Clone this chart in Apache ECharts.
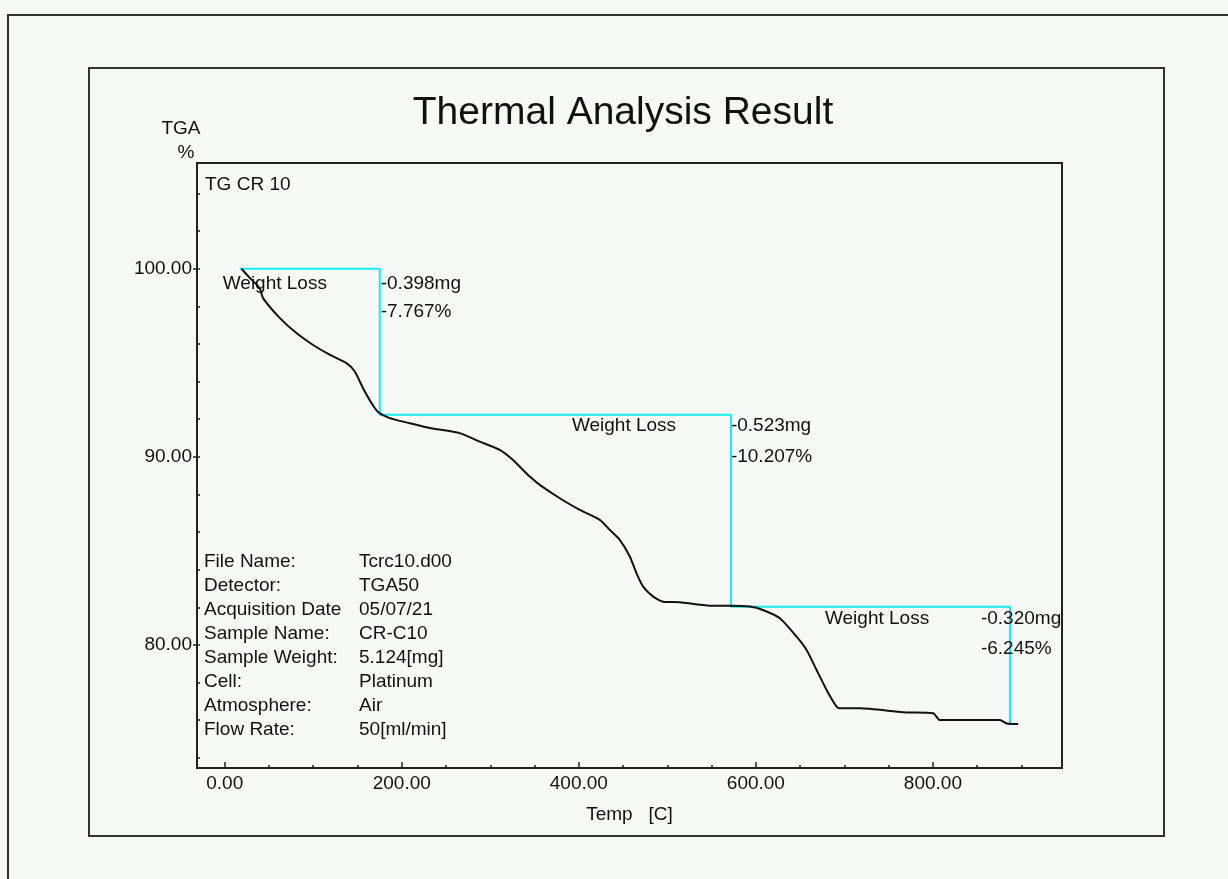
<!DOCTYPE html>
<html>
<head>
<meta charset="utf-8">
<title>Thermal Analysis Result</title>
<script src="https://cdn.jsdelivr.net/npm/echarts@6/dist/echarts.min.js"></script>
<style>
  html, body { margin: 0; padding: 0; background: #f6f9f6; }
  #chart { width: 1228px; height: 879px; }
</style>
</head>
<body>
<div id="chart"></div>
<script>
// TGA curve: temperature [C] and remaining weight [%]
const temps = [18.9, 28.2, 39.5, 43.3, 62.1, 81.0, 99.4, 118.6, 137.5, 146.9, 156.3, 165.8, 173.2,
  186.4, 209.0, 231.6, 265.5, 288.1, 310.7, 325.4, 344.6, 355.9, 378.5, 401.1, 423.7, 435.0,
  446.3, 457.6, 465.2, 472.7, 484.0, 495.3, 514.1, 548.0, 570.6, 593.2, 607.9, 627.1, 646.0,
  657.3, 668.6, 679.9, 691.2, 694.9, 717.5, 766.4, 800.3, 807.9, 875.7, 883.3, 896.4];
const tga = [100.00, 99.52, 98.97, 98.44, 97.39, 96.58, 95.96, 95.43, 94.98, 94.54, 93.65, 92.86, 92.38,
  92.06, 91.79, 91.53, 91.26, 90.81, 90.37, 89.84, 88.95, 88.51, 87.80, 87.18, 86.65, 86.12,
  85.59, 84.70, 83.81, 83.10, 82.57, 82.30, 82.27, 82.09, 82.09, 82.04, 81.86, 81.42, 80.44,
  79.73, 78.67, 77.61, 76.72, 76.63, 76.63, 76.42, 76.37, 76.01, 76.01, 75.83, 75.80];

// Weight-loss steps
const stepStartTemp = 17.0;
const stepStartWeight = 100.0;
const stepEndTemps = [175.1, 571.8, 887.0];
const lossMg = [0.398, 0.523, 0.320];
const lossPct = [7.767, 10.207, 6.245];

// Axis ticks
const xMajorTicks = [0, 200, 400, 600, 800];
const xMinorTicks = [0, 50, 100, 150, 200, 250, 300, 350, 400, 450, 500, 550, 600, 650, 700, 750, 800, 850, 900];
const yMajorTicks = [80, 90, 100];
const yMinorTicks = [74, 76, 78, 80, 82, 84, 86, 88, 90, 92, 94, 96, 98, 100, 102, 104];

// Run information
const infoKeys = ['File Name:', 'Detector:', 'Acquisition Date', 'Sample Name:', 'Sample Weight:', 'Cell:', 'Atmosphere:', 'Flow Rate:'];
const infoValues = ['Tcrc10.d00', 'TGA50', '05/07/21', 'CR-C10', '5.124[mg]', 'Platinum', 'Air', '50[ml/min]'];

const FONT = '"Liberation Sans", Arial, sans-serif';
const INK = '#111';
const X_MIN = -31.3, X_MAX = 945.8, Y_MIN = 73.46, Y_MAX = 105.62;

const curve = temps.map((t, i) => [t, tga[i]]);

// Step polyline: horizontal at the current level, then down by the loss
const stepLine = [];
const stepCorners = [];
let level = stepStartWeight;
stepLine.push([stepStartTemp, level]);
stepEndTemps.forEach((t, i) => {
  stepLine.push([t, level]);
  stepCorners.push([t, level]);
  level = +(level - lossPct[i]).toFixed(3);
  stepLine.push([t, level]);
});

const chart = echarts.init(document.getElementById('chart'), null, { renderer: 'canvas' });

const fmt2 = v => Number(v).toFixed(2);
const axisLineStyle = { show: true, onZero: false, lineStyle: { color: '#222', width: 2 } };
const hiddenAxisLine = { show: false, onZero: false };

chart.setOption({
  backgroundColor: '#f6f9f6',
  animation: false,
  textStyle: { fontFamily: FONT },
  grid: {
    left: 197, top: 163, width: 865, height: 605,
    show: true, borderColor: '#222', borderWidth: 2, backgroundColor: 'transparent'
  },
  xAxis: [
    {
      type: 'value', min: X_MIN, max: X_MAX, position: 'bottom',
      name: 'Temp   [C]', nameLocation: 'middle', nameGap: 37,
      nameTextStyle: { fontFamily: FONT, fontSize: 19, color: INK },
      axisLine: axisLineStyle,
      axisTick: { show: true, inside: true, length: 6, customValues: xMajorTicks, lineStyle: { color: '#222', width: 1.5 } },
      axisLabel: { show: true, customValues: xMajorTicks, formatter: fmt2, fontFamily: FONT, fontSize: 19, color: INK, margin: 6 },
      splitLine: { show: false }
    },
    {
      type: 'value', min: X_MIN, max: X_MAX, position: 'bottom',
      axisLine: hiddenAxisLine,
      axisTick: { show: true, inside: true, length: 3, customValues: xMinorTicks, lineStyle: { color: '#222', width: 1.5 } },
      axisLabel: { show: false },
      splitLine: { show: false }
    }
  ],
  yAxis: [
    {
      type: 'value', min: Y_MIN, max: Y_MAX, position: 'left',
      axisLine: axisLineStyle,
      axisTick: { show: true, inside: false, length: 4, customValues: yMajorTicks, lineStyle: { color: '#222', width: 1.5 } },
      axisLabel: { show: true, customValues: yMajorTicks, formatter: fmt2, fontFamily: FONT, fontSize: 19, color: INK, margin: 5 },
      splitLine: { show: false }
    },
    {
      type: 'value', min: Y_MIN, max: Y_MAX, position: 'left',
      axisLine: hiddenAxisLine,
      axisTick: { show: true, inside: true, length: 3, customValues: yMinorTicks, lineStyle: { color: '#222', width: 1.5 } },
      axisLabel: { show: false },
      splitLine: { show: false }
    }
  ],
  series: [
    {
      name: 'Weight Loss', type: 'line', data: stepLine, xAxisIndex: 0, yAxisIndex: 0,
      showSymbol: false, lineStyle: { color: '#12eef2', width: 2 }, z: 2, silent: true
    },
    {
      name: 'TG CR 10', type: 'line', data: curve, xAxisIndex: 0, yAxisIndex: 0,
      showSymbol: false, smooth: 0.2, lineStyle: { color: '#111', width: 2 }, z: 3, silent: true
    }
  ]
});

// Label placement around each step corner (pixels)
const stepLabelLayout = [
  { wl: [-157, 15], mg: [1, 15], pct: [1, 43] },
  { wl: [-159, 11], mg: [0, 11], pct: [0, 42] },
  { wl: [-185, 12], mg: [-29, 12], pct: [-29, 42] }
];

const texts = [];
const txt = (x, y, s, opt) => texts.push(Object.assign({
  type: 'text', x: x, y: y, silent: true, z: 10,
  style: { text: s, fill: INK, font: '19px ' + FONT, textAlign: 'left', textVerticalAlign: 'middle' }
}, opt || {}));

stepCorners.forEach((c, i) => {
  const p = chart.convertToPixel({ xAxisIndex: 0, yAxisIndex: 0 }, c);
  const L = stepLabelLayout[i];
  txt(p[0] + L.wl[0], p[1] + L.wl[1], 'Weight Loss');
  txt(p[0] + L.mg[0], p[1] + L.mg[1], '-' + lossMg[i].toFixed(3) + 'mg');
  txt(p[0] + L.pct[0], p[1] + L.pct[1], '-' + lossPct[i].toFixed(3) + '%');
});

infoKeys.forEach((k, i) => {
  const y = 562 + i * 23.9;
  txt(204, y, k);
  txt(359, y, infoValues[i]);
});

txt(205, 185, 'TG CR 10');
txt(181, 129, 'TGA', { style: { text: 'TGA', fill: INK, font: '19px ' + FONT, textAlign: 'center', textVerticalAlign: 'middle' } });
txt(186, 153, '%', { style: { text: '%', fill: INK, font: '19px ' + FONT, textAlign: 'center', textVerticalAlign: 'middle' } });
txt(623, 113, 'Thermal Analysis Result', { style: { text: 'Thermal Analysis Result', fill: INK, font: '39px ' + FONT, textAlign: 'center', textVerticalAlign: 'middle' } });

chart.setOption({
  graphic: [
    { type: 'polyline', silent: true, shape: { points: [[8, 879], [8, 15], [1228, 15]] }, style: { stroke: '#333', lineWidth: 2, fill: null } },
    { type: 'rect', silent: true, shape: { x: 89, y: 68, width: 1075, height: 768 }, style: { stroke: '#333', lineWidth: 2, fill: null } }
  ].concat(texts)
});
</script>
</body>
</html>
